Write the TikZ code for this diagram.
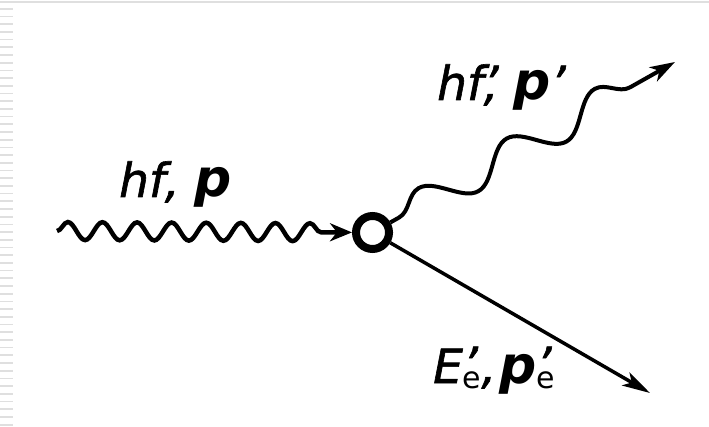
\documentclass[tikz,border=0pt]{standalone}
\usepackage{fontspec}
\setmainfont{DejaVu Sans}[ItalicFeatures={FakeBold=1.3}]
\usetikzlibrary{arrows.meta,decorations.pathmorphing}
\newcommand{\boldp}{{\fontsize{52}{52}\selectfont\bfseries\itshape p}}
\newcommand{\subE}{\raisebox{-5pt}{\upshape\fontsize{30}{30}\selectfont e}}
\begin{document}
\begin{tikzpicture}[x=1pt,y=-1pt,
  inwave/.style={line width=4.5pt, decorate,
    decoration={snake, segment length=34.6pt, amplitude=9pt, post length=19pt}},
  outwave/.style={line width=4pt, decorate,
    decoration={snake, segment length=101pt, amplitude=16pt, pre length=10pt, post length=12pt}},
  electron/.style={line width=3.5pt},
  vertex/.style={circle, draw, line width=8pt, minimum size=33pt, inner sep=0pt},
  lbl/.style={anchor=base west, inner sep=0pt, font=\fontsize{47}{47}\selectfont\itshape},
  artifact/.style={gray!25}
]
\useasboundingbox (0,0) rectangle (709,427);
% scan artifacts at the edges
\draw[artifact, line width=2pt] (0,2.5) -- (709,2.5);
\draw[artifact, line width=13pt, dash pattern=on 1.7pt off 6pt] (6.5,8) -- (6.5,427);

\node[vertex] (v) at (372.5,232.5) {};
\coordinate (a) at (57,231);
\coordinate (b) at (675,62);
\coordinate (c) at (650,393);

\draw[inwave, -{Stealth[length=22pt,width=18pt,inset=7pt]}] (a) -- (v);
\draw[outwave, -{Stealth[length=25pt,width=16pt,inset=7pt]}] (v) -- (b);
\draw[electron, -{Stealth[length=28pt,width=15pt,inset=7pt]}] (v) -- (c);

\node[lbl] (l1) at (119,197) {hf, \boldp};
\node[lbl] (l2) at (437,100) {hf\rlap{’}, \boldp’};
\node[lbl] (l3) at (433,383) {E\rlap{\raisebox{2pt}{’}}\subE,\kern3pt\boldp\rlap{\raisebox{2pt}{’}}\subE};
\end{tikzpicture}
\end{document}
